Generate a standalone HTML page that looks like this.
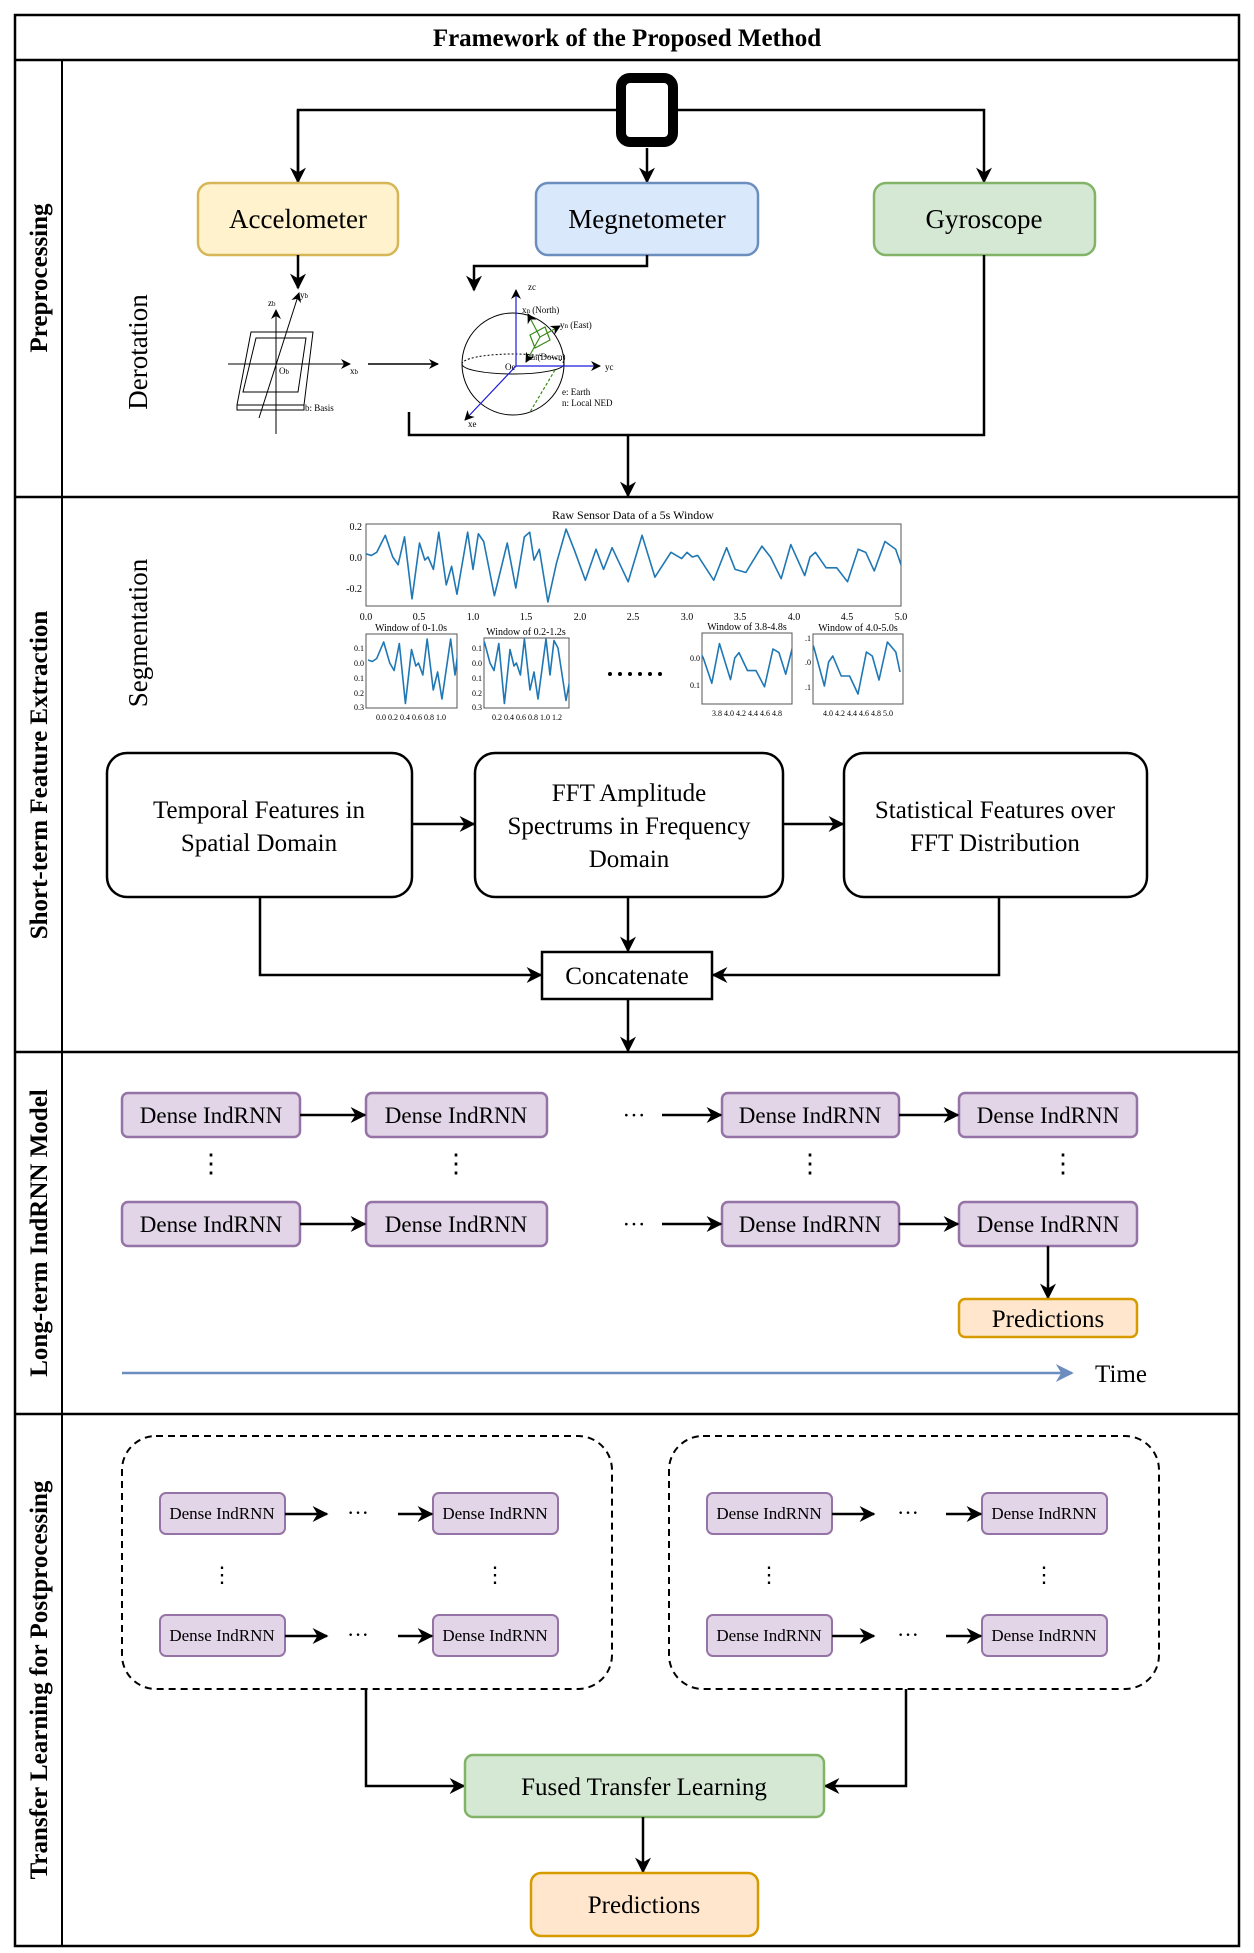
<!DOCTYPE html>
<html><head><meta charset="utf-8"><style>
html,body{margin:0;padding:0;background:#fff}
svg{display:block}
text{font-family:"Liberation Serif",serif;fill:#000}
</style></head><body>
<svg width="1254" height="1953" viewBox="0 0 1254 1953" xmlns="http://www.w3.org/2000/svg">
<defs>
<marker id="ah" viewBox="0 0 10 10" refX="9" refY="5" markerWidth="10" markerHeight="10" markerUnits="userSpaceOnUse" orient="auto"><path d="M0,0 L10,5 L0,10 L3,5 z" fill="#000"/></marker>
<marker id="ab" viewBox="0 0 10 10" refX="9" refY="5" markerWidth="16" markerHeight="16" markerUnits="userSpaceOnUse" orient="auto"><path d="M0,0 L10,5 L0,10 L3,5 z" fill="#000"/></marker>
<marker id="abl" viewBox="0 0 10 10" refX="9" refY="5" markerWidth="18" markerHeight="18" markerUnits="userSpaceOnUse" orient="auto"><path d="M0,0 L10,5 L0,10 L3,5 z" fill="#6c8ebf"/></marker>
<clipPath id="c1"><rect x="366" y="633" width="91" height="75"/></clipPath>
<clipPath id="c2"><rect x="484" y="638" width="85" height="70"/></clipPath>
<clipPath id="c3"><rect x="702" y="633" width="90" height="71"/></clipPath>
<clipPath id="c4"><rect x="813" y="634" width="90" height="70"/></clipPath>
<polyline id="wave" fill="none" stroke="#1f77b4" stroke-width="1.6" vector-effect="non-scaling-stroke" stroke-linejoin="round" points="0,0.02 0.05,0.01 0.1,0.03 0.18,0.14 0.25,0 0.3,-0.05 0.36,0.13 0.43,-0.27 0.5,0.09 0.55,-0.02 0.58,0 0.63,-0.08 0.68,0.16 0.75,-0.18 0.8,-0.06 0.85,-0.24 0.95,0.16 1,-0.08 1.05,0.15 1.1,0.1 1.2,-0.25 1.32,0.09 1.4,-0.2 1.48,0.13 1.53,0.16 1.57,-0.02 1.62,0.05 1.7,-0.29 1.78,-0.04 1.87,0.18 1.95,0.04 2.05,-0.15 2.15,0.05 2.22,-0.08 2.3,0.06 2.45,-0.16 2.58,0.14 2.7,-0.13 2.85,0.03 2.95,-0.01 3,0.03 3.05,0 3.1,0.01 3.25,-0.15 3.37,0.06 3.45,-0.08 3.55,-0.1 3.7,0.07 3.78,0 3.88,-0.14 3.97,0.08 4.1,-0.12 4.15,0 4.2,0.03 4.3,-0.07 4.4,-0.07 4.5,-0.16 4.6,0.05 4.67,0.03 4.75,-0.09 4.85,0.1 4.95,0.05 5,-0.05"/>
</defs>

<rect x="15" y="15" width="1224" height="1931" fill="none" stroke="#000" stroke-width="2.5"/>
<line x1="15" y1="60" x2="1239" y2="60" stroke="#000" stroke-width="2.5"/>
<line x1="62" y1="60" x2="62" y2="1946" stroke="#000" stroke-width="2"/>
<line x1="15" y1="497" x2="1239" y2="497" stroke="#000" stroke-width="2.5"/>
<line x1="15" y1="1052" x2="1239" y2="1052" stroke="#000" stroke-width="2.5"/>
<line x1="15" y1="1414" x2="1239" y2="1414" stroke="#000" stroke-width="2.5"/>
<text x="627" y="46" font-size="25" font-weight="bold" text-anchor="middle">Framework of the Proposed Method</text>

<g font-size="25" font-weight="bold" text-anchor="middle">
<text transform="translate(47,278) rotate(-90)">Preprocessing</text>
<text transform="translate(47,775) rotate(-90)">Short-term Feature Extraction</text>
<text transform="translate(47,1233) rotate(-90)">Long-term IndRNN Model</text>
<text transform="translate(47,1680) rotate(-90)">Transfer Learning for Postprocessing</text>
</g>

<rect x="621" y="78" width="52" height="64" rx="9" fill="#fff" stroke="#000" stroke-width="10"/>
<polyline points="298,182 298,110 616,110" fill="none" stroke="#000" stroke-width="2.5"/>
<polyline points="678,110 984,110 984,182" fill="none" stroke="#000" stroke-width="2.5" marker-end="url(#ab)"/>
<line x1="298" y1="110" x2="298" y2="182" stroke="#000" stroke-width="2.5" marker-end="url(#ab)"/>
<line x1="647" y1="148" x2="647" y2="182" stroke="#000" stroke-width="2.5" marker-end="url(#ab)"/>
<rect x="198" y="183" width="200" height="72" rx="12" fill="#fff2cc" stroke="#d6b656" stroke-width="2.5"/>
<rect x="536" y="183" width="222" height="72" rx="12" fill="#dae8fc" stroke="#6c8ebf" stroke-width="2.5"/>
<rect x="874" y="183" width="221" height="72" rx="12" fill="#d5e8d4" stroke="#82b366" stroke-width="2.5"/>
<g font-size="27" text-anchor="middle">
<text x="298" y="228">Accelometer</text>
<text x="647" y="228">Megnetometer</text>
<text x="984" y="228">Gyroscope</text>
</g>
<line x1="298" y1="255" x2="298" y2="288" stroke="#000" stroke-width="2.5" marker-end="url(#ab)"/>
<polyline points="647,255 647,266 474,266 474,290" fill="none" stroke="#000" stroke-width="2.5" marker-end="url(#ab)"/>
<polyline points="984,255 984,435 409,435 409,412" fill="none" stroke="#000" stroke-width="2.5"/>
<line x1="628" y1="435" x2="628" y2="496" stroke="#000" stroke-width="2.5" marker-end="url(#ab)"/>
<text transform="translate(147,352) rotate(-90)" font-size="27" text-anchor="middle">Derotation</text>

<g stroke="#000" stroke-width="1" fill="none">
<polygon points="251,332 313,332 304,405 237,405"/>
<polygon points="256,338 306,338 298,392 243,392"/>
<polygon points="237,405 304,405 304,410 237,410"/>
<line x1="228" y1="364" x2="350" y2="364" marker-end="url(#ah)"/>
<line x1="276" y1="434" x2="276" y2="310" marker-end="url(#ah)"/>
<line x1="259" y1="418" x2="299" y2="293" marker-end="url(#ah)"/>
<line x1="368" y1="364" x2="438" y2="364" stroke-width="1.5" marker-end="url(#ah)"/>
<ellipse cx="513" cy="364" rx="51" ry="51"/>
<path d="M462,364 A51,10 0 0 1 564,364" stroke-dasharray="2,2"/>
<path d="M462,364 A51,10 0 0 0 564,364"/>
</g>
<g font-size="9">
<text x="268" y="306">z<tspan font-size="7">b</tspan></text><text x="300" y="298">y<tspan font-size="7">b</tspan></text>
<text x="350" y="374">x<tspan font-size="7">b</tspan></text><text x="279" y="374">O<tspan font-size="7">b</tspan></text>
<text x="305" y="411">b: Basis</text>
<text x="528" y="290">zc</text><text x="605" y="370">yc</text><text x="468" y="427">xe</text>
<text x="505" y="370">Oe</text>
<text x="562" y="395">e: Earth</text><text x="562" y="406">n: Local NED</text>
<text x="522" y="313">x<tspan font-size="7">n</tspan> (North)</text>
<text x="560" y="328">y<tspan font-size="7">n</tspan> (East)</text>
<text x="530" y="360">z<tspan font-size="7">n</tspan>(Down)</text>
</g>
<g stroke="#1a1adb" stroke-width="1.2" fill="none">
<line x1="516" y1="366" x2="516" y2="290" marker-end="url(#ah)"/>
<line x1="516" y1="366" x2="600" y2="366" marker-end="url(#ah)"/>
<line x1="516" y1="366" x2="465" y2="420" marker-end="url(#ah)"/>
</g>
<g stroke="#3a8a1a" stroke-width="1.2" fill="none">
<polygon points="530,335 545,327 550,340 535,348"/>
<line x1="540" y1="337" x2="528" y2="314" marker-end="url(#ah)"/>
<line x1="540" y1="337" x2="560" y2="326" marker-end="url(#ah)"/>
<line x1="540" y1="337" x2="526" y2="362" marker-end="url(#ah)"/>
<line x1="555" y1="370" x2="530" y2="412" stroke-dasharray="3,2"/>
</g>

<text transform="translate(147,633) rotate(-90)" font-size="27" text-anchor="middle">Segmentation</text>
<text x="633" y="519" font-size="12" text-anchor="middle">Raw Sensor Data of a 5s Window</text>
<rect x="366" y="524" width="535" height="82" fill="none" stroke="#555" stroke-width="1"/>
<use href="#wave" transform="translate(366,557) scale(107,-155)"/>
<g font-size="10" text-anchor="end">
<text x="362" y="530">0.2</text><text x="362" y="561">0.0</text><text x="362" y="592">-0.2</text>
</g>
<g font-size="10" text-anchor="middle">
<text x="366" y="620">0.0</text><text x="419" y="620">0.5</text><text x="473" y="620">1.0</text><text x="526" y="620">1.5</text><text x="580" y="620">2.0</text><text x="633" y="620">2.5</text><text x="687" y="620">3.0</text><text x="740" y="620">3.5</text><text x="794" y="620">4.0</text><text x="847" y="620">4.5</text><text x="901" y="620">5.0</text>
</g>
<g font-size="10" text-anchor="middle">
<text x="411" y="631">Window of 0-1.0s</text>
<text x="526" y="635">Window of 0.2-1.2s</text>
<text x="747" y="630">Window of 3.8-4.8s</text>
<text x="858" y="631">Window of 4.0-5.0s</text>
</g>
<rect x="366" y="634" width="91" height="74" fill="none" stroke="#555"/>
<rect x="484" y="638" width="85" height="70" fill="none" stroke="#555"/>
<rect x="702" y="633" width="90" height="71" fill="none" stroke="#555"/>
<rect x="813" y="634" width="90" height="70" fill="none" stroke="#555"/>
<g clip-path="url(#c1)"><use href="#wave" transform="translate(368,663) scale(87,-150)"/></g>
<g clip-path="url(#c2)"><use href="#wave" transform="translate(470,663) scale(80,-150)"/></g>
<g clip-path="url(#c3)"><use href="#wave" transform="translate(382,658) scale(85,-180)"/></g>
<g clip-path="url(#c4)"><use href="#wave" transform="translate(480,662) scale(84,-200)"/></g>
<text x="411" y="720" font-size="8" text-anchor="middle">0.0 0.2 0.4 0.6 0.8 1.0</text>
<text x="527" y="720" font-size="8" text-anchor="middle">0.2 0.4 0.6 0.8 1.0 1.2</text>
<text x="747" y="716" font-size="8" text-anchor="middle">3.8 4.0 4.2 4.4 4.6 4.8</text>
<text x="858" y="716" font-size="8" text-anchor="middle">4.0 4.2 4.4 4.6 4.8 5.0</text>
<g font-size="8" text-anchor="end">
<text x="364" y="651">0.1</text><text x="364" y="666">0.0</text><text x="364" y="681">0.1</text><text x="364" y="696">0.2</text><text x="364" y="710">0.3</text>
<text x="482" y="651">0.1</text><text x="482" y="666">0.0</text><text x="482" y="681">0.1</text><text x="482" y="696">0.2</text><text x="482" y="710">0.3</text>
<text x="700" y="661">0.0</text><text x="700" y="688">0.1</text>
<text x="811" y="641">.1</text><text x="811" y="665">.0</text><text x="811" y="690">.1</text>
</g>
<g fill="#000"><circle cx="610" cy="674" r="2"/><circle cx="620" cy="674" r="2"/><circle cx="630" cy="674" r="2"/><circle cx="640" cy="674" r="2"/><circle cx="650" cy="674" r="2"/><circle cx="660" cy="674" r="2"/></g>

<rect x="107" y="753" width="305" height="144" rx="20" fill="#fff" stroke="#000" stroke-width="2.5"/>
<rect x="475" y="753" width="308" height="144" rx="20" fill="#fff" stroke="#000" stroke-width="2.5"/>
<rect x="844" y="753" width="303" height="144" rx="20" fill="#fff" stroke="#000" stroke-width="2.5"/>
<g font-size="25" text-anchor="middle">
<text x="259" y="818">Temporal Features in</text><text x="259" y="851">Spatial Domain</text>
<text x="629" y="801">FFT Amplitude</text><text x="629" y="834">Spectrums in Frequency</text><text x="629" y="867">Domain</text>
<text x="995" y="818">Statistical Features over</text><text x="995" y="851">FFT Distribution</text>
</g>
<line x1="412" y1="824" x2="474" y2="824" stroke="#000" stroke-width="2.5" marker-end="url(#ab)"/>
<line x1="783" y1="824" x2="843" y2="824" stroke="#000" stroke-width="2.5" marker-end="url(#ab)"/>
<rect x="542" y="952" width="170" height="47" fill="#fff" stroke="#000" stroke-width="2.5"/>
<text x="627" y="984" font-size="25" text-anchor="middle">Concatenate</text>
<polyline points="260,897 260,975 541,975" fill="none" stroke="#000" stroke-width="2.5" marker-end="url(#ab)"/>
<polyline points="999,897 999,975 713,975" fill="none" stroke="#000" stroke-width="2.5" marker-end="url(#ab)"/>
<line x1="628" y1="897" x2="628" y2="951" stroke="#000" stroke-width="2.5" marker-end="url(#ab)"/>
<line x1="628" y1="999" x2="628" y2="1051" stroke="#000" stroke-width="2.5" marker-end="url(#ab)"/>

<g fill="#e1d5e7" stroke="#9673a6" stroke-width="2.5">
<rect x="122" y="1093" width="178" height="44" rx="6"/><rect x="366" y="1093" width="181" height="44" rx="6"/>
<rect x="722" y="1093" width="177" height="44" rx="6"/><rect x="959" y="1093" width="178" height="44" rx="6"/>
<rect x="122" y="1202" width="178" height="44" rx="6"/><rect x="366" y="1202" width="181" height="44" rx="6"/>
<rect x="722" y="1202" width="177" height="44" rx="6"/><rect x="959" y="1202" width="178" height="44" rx="6"/>
</g>
<g font-size="23" text-anchor="middle">
<text x="211" y="1123">Dense IndRNN</text><text x="456" y="1123">Dense IndRNN</text><text x="810" y="1123">Dense IndRNN</text><text x="1048" y="1123">Dense IndRNN</text>
<text x="211" y="1232">Dense IndRNN</text><text x="456" y="1232">Dense IndRNN</text><text x="810" y="1232">Dense IndRNN</text><text x="1048" y="1232">Dense IndRNN</text>
<text x="634" y="1123">···</text><text x="634" y="1232">···</text>
</g>
<g font-size="26" text-anchor="middle">
<text x="211" y="1172">⋮</text><text x="456" y="1172">⋮</text><text x="810" y="1172">⋮</text><text x="1063" y="1172">⋮</text>
</g>
<g stroke="#000" stroke-width="2.5">
<line x1="300" y1="1115" x2="365" y2="1115" marker-end="url(#ab)"/><line x1="662" y1="1115" x2="721" y2="1115" marker-end="url(#ab)"/><line x1="899" y1="1115" x2="958" y2="1115" marker-end="url(#ab)"/>
<line x1="300" y1="1224" x2="365" y2="1224" marker-end="url(#ab)"/><line x1="662" y1="1224" x2="721" y2="1224" marker-end="url(#ab)"/><line x1="899" y1="1224" x2="958" y2="1224" marker-end="url(#ab)"/>
<line x1="1048" y1="1246" x2="1048" y2="1298" marker-end="url(#ab)"/>
</g>
<rect x="959" y="1299" width="178" height="38" rx="6" fill="#ffe6cc" stroke="#d79b00" stroke-width="2.5"/>
<text x="1048" y="1327" font-size="25" text-anchor="middle">Predictions</text>
<line x1="122" y1="1373" x2="1072" y2="1373" stroke="#6c8ebf" stroke-width="2.5" marker-end="url(#abl)"/>
<text x="1121" y="1382" font-size="25" text-anchor="middle">Time</text>

<rect x="122" y="1436" width="490" height="253" rx="34" fill="none" stroke="#000" stroke-width="2" stroke-dasharray="7,5"/>
<rect x="669" y="1436" width="490" height="253" rx="34" fill="none" stroke="#000" stroke-width="2" stroke-dasharray="7,5"/>
<g fill="#e1d5e7" stroke="#9673a6" stroke-width="2">
<rect x="160" y="1493" width="125" height="41" rx="6"/><rect x="433" y="1493" width="125" height="41" rx="6"/>
<rect x="160" y="1615" width="125" height="41" rx="6"/><rect x="433" y="1615" width="125" height="41" rx="6"/>
<rect x="707" y="1493" width="125" height="41" rx="6"/><rect x="982" y="1493" width="125" height="41" rx="6"/>
<rect x="707" y="1615" width="125" height="41" rx="6"/><rect x="982" y="1615" width="125" height="41" rx="6"/>
</g>
<g font-size="17" text-anchor="middle">
<text x="222" y="1519">Dense IndRNN</text><text x="495" y="1519">Dense IndRNN</text><text x="222" y="1641">Dense IndRNN</text><text x="495" y="1641">Dense IndRNN</text>
<text x="769" y="1519">Dense IndRNN</text><text x="1044" y="1519">Dense IndRNN</text><text x="769" y="1641">Dense IndRNN</text><text x="1044" y="1641">Dense IndRNN</text>
</g>
<g font-size="22" text-anchor="middle">
<text x="358" y="1520">···</text><text x="358" y="1642">···</text><text x="908" y="1520">···</text><text x="908" y="1642">···</text>
<text x="222" y="1582">⋮</text><text x="495" y="1582">⋮</text><text x="769" y="1582">⋮</text><text x="1044" y="1582">⋮</text>
</g>
<g stroke="#000" stroke-width="2.5">
<line x1="285" y1="1514" x2="327" y2="1514" marker-end="url(#ab)"/><line x1="398" y1="1514" x2="432" y2="1514" marker-end="url(#ab)"/>
<line x1="285" y1="1636" x2="327" y2="1636" marker-end="url(#ab)"/><line x1="398" y1="1636" x2="432" y2="1636" marker-end="url(#ab)"/>
<line x1="832" y1="1514" x2="874" y2="1514" marker-end="url(#ab)"/><line x1="946" y1="1514" x2="981" y2="1514" marker-end="url(#ab)"/>
<line x1="832" y1="1636" x2="874" y2="1636" marker-end="url(#ab)"/><line x1="946" y1="1636" x2="981" y2="1636" marker-end="url(#ab)"/>
</g>
<polyline points="366,1689 366,1786 464,1786" fill="none" stroke="#000" stroke-width="2.5" marker-end="url(#ab)"/>
<polyline points="906,1689 906,1786 825,1786" fill="none" stroke="#000" stroke-width="2.5" marker-end="url(#ab)"/>
<rect x="465" y="1755" width="359" height="62" rx="8" fill="#d5e8d4" stroke="#82b366" stroke-width="2.5"/>
<text x="644" y="1795" font-size="25" text-anchor="middle">Fused Transfer Learning</text>
<line x1="643" y1="1817" x2="643" y2="1872" stroke="#000" stroke-width="2.5" marker-end="url(#ab)"/>
<rect x="531" y="1873" width="227" height="63" rx="10" fill="#ffe6cc" stroke="#d79b00" stroke-width="2.5"/>
<text x="644" y="1913" font-size="25" text-anchor="middle">Predictions</text>
</svg>
</body></html>
